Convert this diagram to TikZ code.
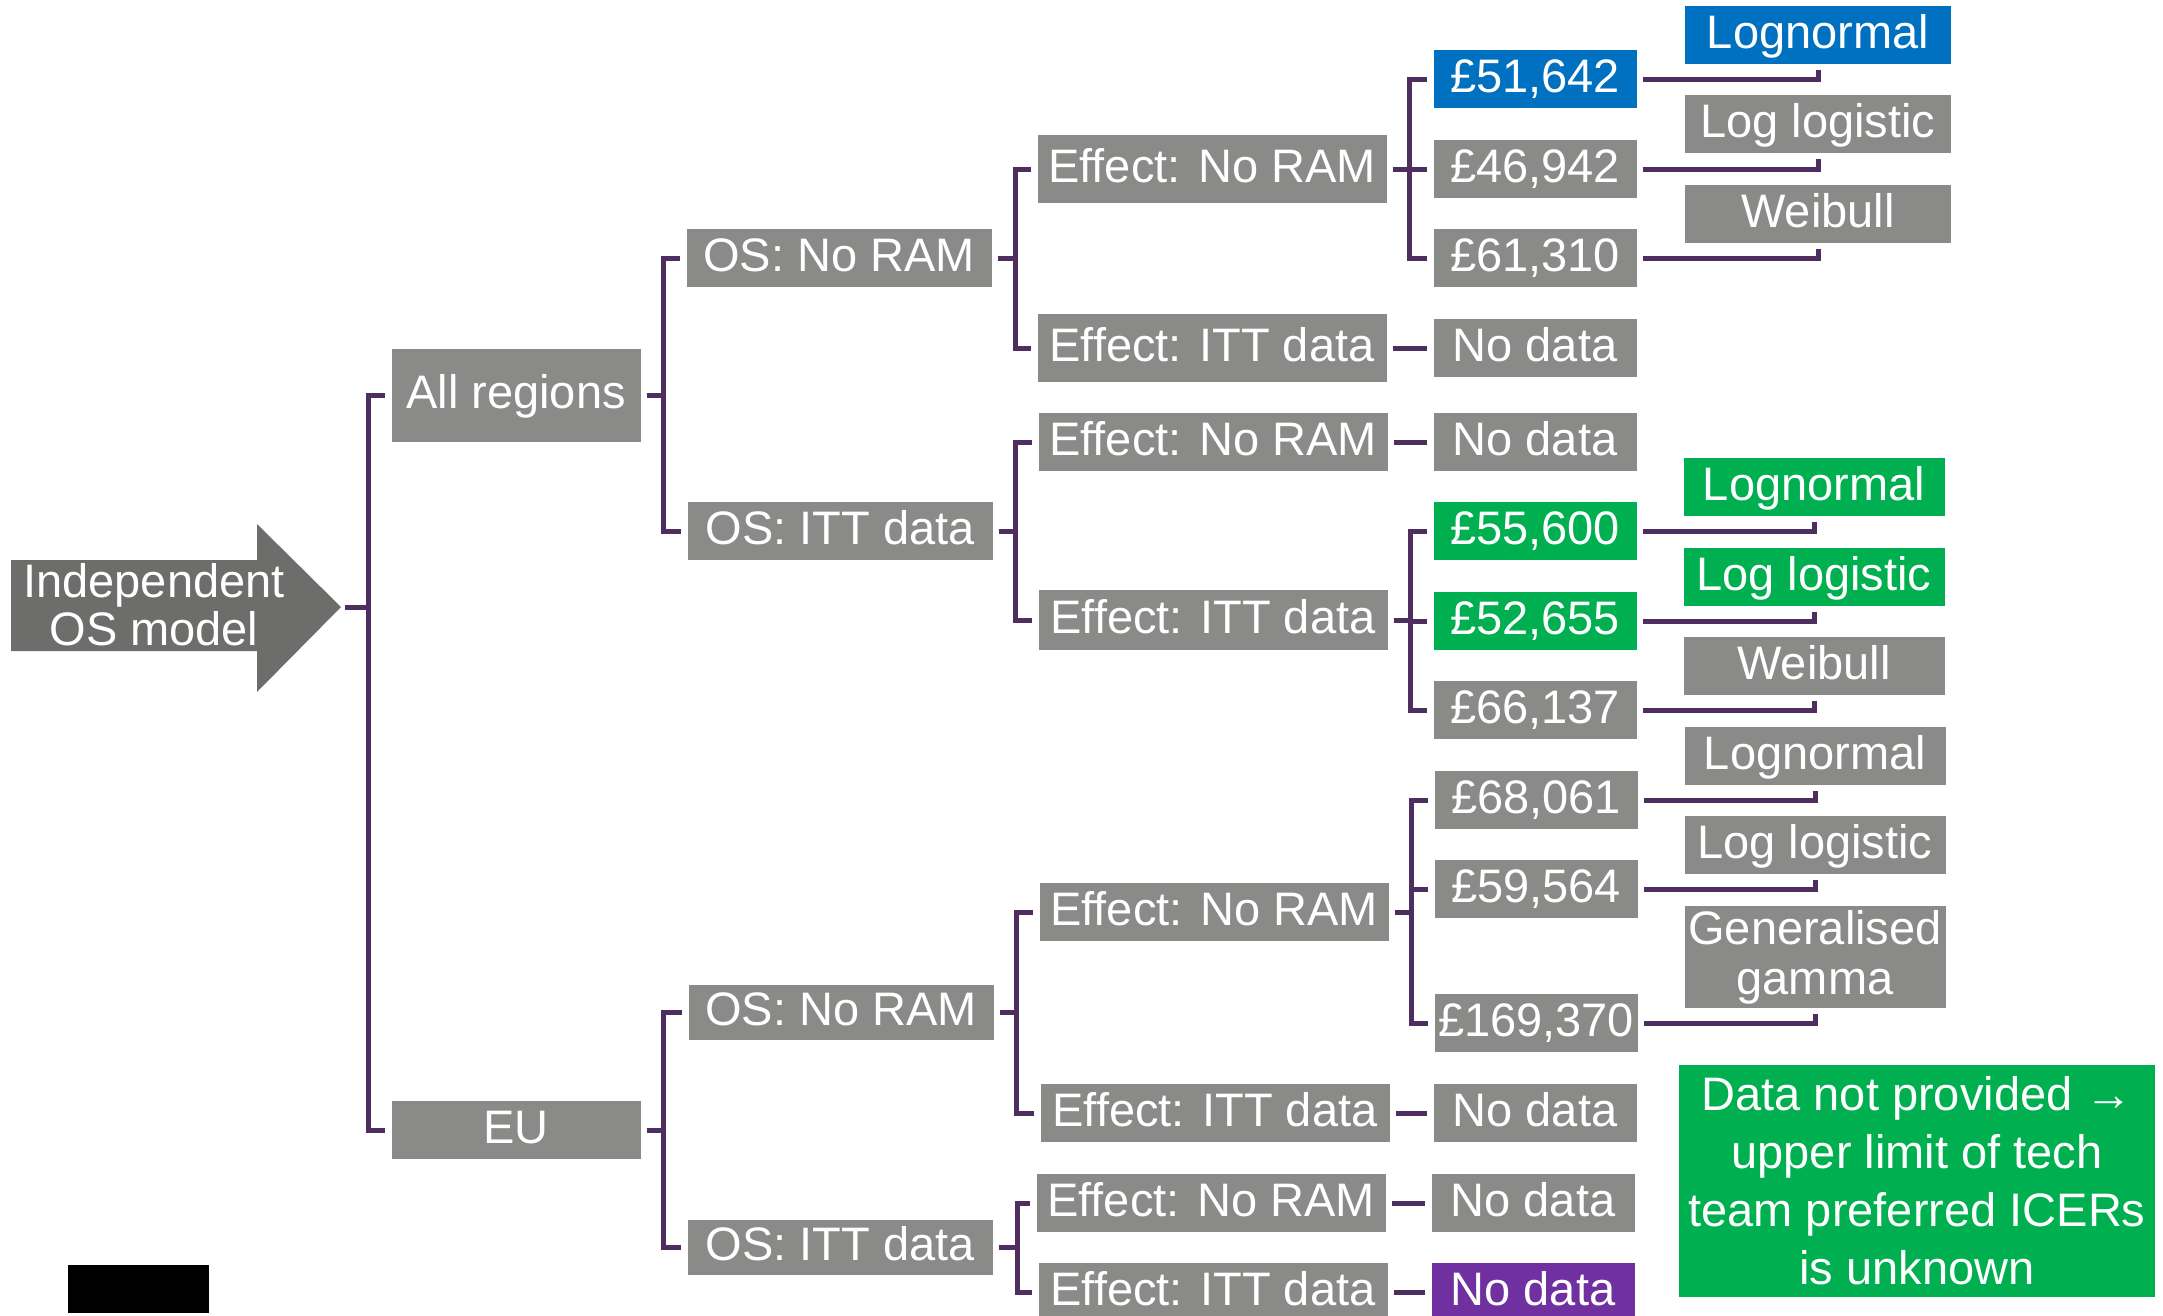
\documentclass[tikz,border=0pt]{standalone}
\usepackage{fontspec}
\setmainfont{Liberation Sans}
\definecolor{boxgray}{RGB}{138,138,137}
\definecolor{arrowgray}{RGB}{109,109,107}
\definecolor{ramblue}{RGB}{0,112,192}
\definecolor{ittgreen}{RGB}{0,176,80}
\definecolor{nodatapurple}{RGB}{112,48,160}
\definecolor{linkpurple}{RGB}{78,46,94}
\begin{document}
\begin{tikzpicture}[x=1pt, y=-1pt,
    box/.style={fill=boxgray, text=white, inner sep=0pt, minimum height=58pt, font=\fontsize{47}{48}\selectfont},
    cell/.style={box, text height=34pt, text depth=6.6pt},
    lvone/.style={cell, minimum width=249pt},
    lvtwo/.style={cell, minimum width=305pt},
    lvthree/.style={cell, minimum width=349pt},
    lvfour/.style={cell, minimum width=203pt},
    lvfive/.style={cell, minimum width=266pt},
    link/.style={draw=linkpurple, line width=5pt, shorten <=6pt, shorten >=6pt}]
        \useasboundingbox (0,0) rectangle (2163,1315);
        \fill[arrowgray] (11,560) -- (257,560) -- (257,524) -- (341,607) -- (257,692) -- (257,651) -- (11,651) -- cycle;
        \node[text=white, align=center, font=\fontsize{47}{48}\selectfont] (model) at (154,605) {Independent\\OS model};
        \coordinate (tip) at (341,607);
        \node[lvone, minimum height=93pt] (all) at (516,395) {All regions};
        \node[lvone] (eu) at (516,1130) {EU};
        \node[lvtwo] (osA1) at (839,258) {OS: No RAM};
        \node[lvtwo] (osA2) at (840,531) {OS: ITT data};
        \node[lvtwo, minimum height=55pt] (osE1) at (841,1012) {OS: No RAM};
        \node[lvtwo, minimum height=55pt] (osE2) at (840,1247) {OS: ITT data};
        \node[lvthree, minimum height=68pt] (efA1) at (1212,169) {Effect: No RAM};
        \node[lvthree, minimum height=68pt] (efA2) at (1212,348) {Effect: ITT data};
        \node[lvthree] (efA3) at (1213,442) {Effect: No RAM};
        \node[lvthree, minimum height=60pt] (efA4) at (1213,620) {Effect: ITT data};
        \node[lvthree] (efE1) at (1214,912) {Effect: No RAM};
        \node[lvthree] (efE2) at (1215,1113) {Effect: ITT data};
        \node[lvthree] (efE3) at (1211,1203) {Effect: No RAM};
        \node[lvthree] (efE4) at (1213,1292) {Effect: ITT data};
        \node[lvfour, fill=ramblue] (v1) at (1535,79) {£51,642};
        \node[lvfour] (v2) at (1535,169) {£46,942};
        \node[lvfour] (v3) at (1535,258) {£61,310};
        \node[lvfour] (nd1) at (1535,348) {No data};
        \node[lvfour] (nd2) at (1535,442) {No data};
        \node[lvfour, fill=ittgreen] (v4) at (1535,531) {£55,600};
        \node[lvfour, fill=ittgreen] (v5) at (1535,621) {£52,655};
        \node[lvfour] (v6) at (1535,710) {£66,137};
        \node[lvfour] (v7) at (1536,800) {£68,061};
        \node[lvfour] (v8) at (1536,889) {£59,564};
        \node[lvfour] (v9) at (1536,1023) {£169,370};
        \node[lvfour] (nd3) at (1535,1113) {No data};
        \node[lvfour] (nd4) at (1533,1203) {No data};
        \node[lvfour, fill=nodatapurple] (nd5) at (1533,1292) {No data};
        \node[lvfive, fill=ramblue] (d1) at (1818,35) {Lognormal};
        \node[lvfive] (d2) at (1818,124) {Log logistic};
        \node[lvfive] (d3) at (1818,214) {Weibull};
        \node[lvfive, minimum width=261pt, fill=ittgreen] (d4) at (1814,487) {Lognormal};
        \node[lvfive, minimum width=261pt, fill=ittgreen] (d5) at (1814,577) {Log logistic};
        \node[lvfive, minimum width=261pt] (d6) at (1814,666) {Weibull};
        \node[lvfive, minimum width=261pt] (d7) at (1815,756) {Lognormal};
        \node[lvfive, minimum width=261pt] (d8) at (1815,845) {Log logistic};
        \node[box, minimum width=261pt, minimum height=102pt, align=center, font=\fontsize{47}{50}\selectfont] (d9) at (1815,957) {Generalised\\gamma};
        \node[box, fill=ittgreen, minimum width=476pt, minimum height=232pt, align=center, font=\fontsize{47}{58}\selectfont] (note) at (1917,1181) {Data not provided →\\upper limit of tech\\team preferred ICERs\\is unknown};
        \fill[black] (68,1265) rectangle (209,1313);
        \draw[link, shorten <=4pt] (tip) -- ++(27,0) |- (all.west);
        \draw[link, shorten <=4pt] (tip) -- ++(27,0) |- (eu.west);
        \draw[link] (all.east) -- ++(23,0) |- (osA1.west);
        \draw[link] (all.east) -- ++(23,0) |- (osA2.west);
        \draw[link] (eu.east) -- ++(23,0) |- (osE1.west);
        \draw[link] (eu.east) -- ++(23,0) |- (osE2.west);
        \draw[link] (osA1.east) -- ++(24,0) |- (efA1.west);
        \draw[link] (osA1.east) -- ++(24,0) |- (efA2.west);
        \draw[link] (osA2.east) -- ++(23,0) |- (efA3.west);
        \draw[link] (osA2.east) -- ++(23,0) |- (efA4.west);
        \draw[link] (osE1.east) -- ++(23,0) |- (efE1.west);
        \draw[link] (osE1.east) -- ++(23,0) |- (efE2.west);
        \draw[link] (osE2.east) -- ++(25,0) |- (efE3.west);
        \draw[link] (osE2.east) -- ++(25,0) |- (efE4.west);
        \draw[link] (efA1.east) -- ++(23,0) |- (v1.west);
        \draw[link] (efA1.east) -- ++(23,0) |- (v2.west);
        \draw[link] (efA1.east) -- ++(23,0) |- (v3.west);
        \draw[link] (efA2) -- (nd1);
        \draw[link] (efA3) -- (nd2);
        \draw[link] (efA4.east) -- ++(23,0) |- (v4.west);
        \draw[link] (efA4.east) -- ++(23,0) |- (v5.west);
        \draw[link] (efA4.east) -- ++(23,0) |- (v6.west);
        \draw[link] (efE1.east) -- ++(23,0) |- (v7.west);
        \draw[link] (efE1.east) -- ++(23,0) |- (v8.west);
        \draw[link] (efE1.east) -- ++(23,0) |- (v9.west);
        \draw[link] (efE2) -- (nd3);
        \draw[link] (efE3) -- (nd4);
        \draw[link] (efE4) -- (nd5);
        \draw[link] (v1) -| (d1);
        \draw[link] (v2) -| (d2);
        \draw[link] (v3) -| (d3);
        \draw[link] (v4) -| (d4);
        \draw[link] (v5) -| (d5);
        \draw[link] (v6) -| (d6);
        \draw[link] (v7) -| (d7);
        \draw[link] (v8) -| (d8);
        \draw[link] (v9) -| (d9);
    \end{tikzpicture}
\end{document}
